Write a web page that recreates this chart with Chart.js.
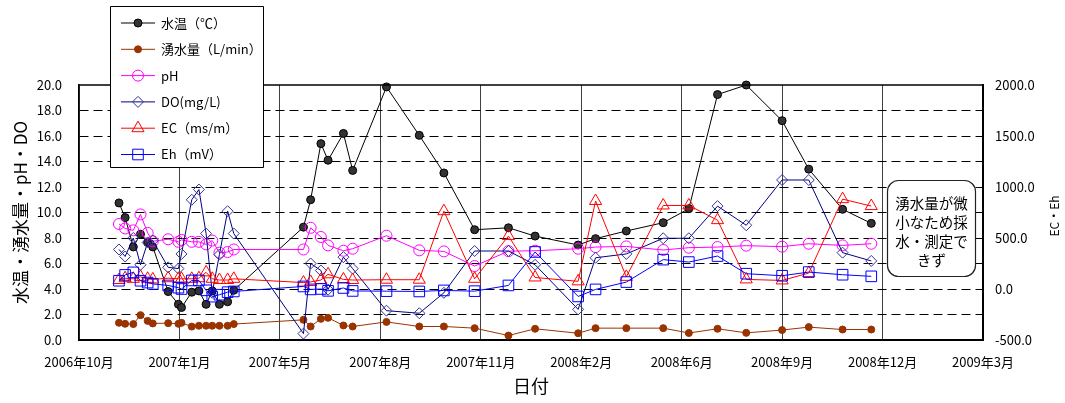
<!DOCTYPE html>
<html>
<head>
<meta charset="utf-8">
<script src="https://cdn.jsdelivr.net/npm/chart.js@4"></script>
<style>
  html, body { margin: 0; padding: 0; background: #fff; }
</style>
</head>
<body>
<canvas id="chart" width="1065" height="403"></canvas>
<script>
const FONT = '"Noto Sans CJK JP", "Noto Sans", sans-serif'

// 採水日
const sampleDates = [
  '2006-11-30', '2006-12-06', '2006-12-14', '2006-12-21', '2006-12-28', '2007-01-02',
  '2007-01-17', '2007-01-27', '2007-01-30', '2007-02-09', '2007-02-16', '2007-02-23',
  '2007-03-01', '2007-03-08', '2007-03-16', '2007-03-22',
  '2007-05-29', '2007-06-05', '2007-06-15', '2007-06-22', '2007-07-07', '2007-07-16',
  '2007-08-18', '2007-09-19', '2007-10-13', '2007-11-12', '2007-12-15', '2008-01-10',
  '2008-02-21', '2008-03-09', '2008-04-08', '2008-05-14', '2008-06-08', '2008-07-06',
  '2008-08-03', '2008-09-07', '2008-10-03', '2008-11-05', '2008-12-03'
]

// 左軸
const waterTemp = [
  10.75, 9.6, 7.3, 8.3, 7.65, 7.3, 3.8, 2.8, 2.55, 3.75, 3.85, 2.8, 3.85, 2.8, 3.0, 3.9,
  8.85, 11.0, 15.4, 14.1, 16.2, 13.3,
  19.85, 16.05, 13.1, 8.65, 8.8, 8.15, 7.45, 7.95, 8.55, 9.2, 10.3, 19.25, 20.0, 17.2, 13.4, 10.25, 9.15
]
const flowRate = [
  1.35, 1.27, 1.25, 1.95, 1.5, 1.3, 1.32, 1.27, 1.35, 1.05, 1.12, 1.12, 1.12, 1.12, 1.12, 1.25,
  1.58, 1.06, 1.66, 1.74, 1.14, 1.06,
  1.42, 1.06, 1.06, 0.93, 0.35, 0.88, 0.53, 0.93, 0.93, 0.93, 0.55, 0.88, 0.56, 0.78, 1.01, 0.82, 0.82
]
const phValues = [
  9.1, 8.75, 8.6, 9.85, 8.4, 7.75, 7.9, 7.7, 7.85, 7.7, 7.7, 7.5, 7.8, 6.85, 6.9, 7.1,
  7.1, 8.8, 8.08, 7.42, 7.0, 7.16,
  8.18, 7.03, 6.95, 5.8, 6.97, 7.0, 7.16, 7.29, 7.34, 7.06, 7.24, 7.29, 7.4, 7.32, 7.55, 7.42, 7.55
]
const doValues = [
  7.1, 6.55, 8.0, 5.9, 7.65, 7.8, 5.7, 5.6, 6.75, 11.0, 11.8, 8.35, 3.7, 6.7, 10.1, 8.35,
  0.5, 6.0, 5.45, 3.95, 6.5, 5.6,
  2.3, 2.1, 3.7, 6.98, 6.98, 5.9, 2.4, 6.45, 6.75, 7.98, 7.98, 10.5, 9.0, 12.55, 12.55, 6.85, 6.2
]

// 右軸
const ecValues = [
  88, 106, 100, 119, 100, 94, 106, 100, 100, 100, 106, 163, 100, 88, 88, 100,
  63, 69, 88, 144, 94, 88,
  91, 91, 763, 100, 519, 113, 75, 863, 119, 819, 819, 675, 94, 84, 156, 881, 813
]
const ehValues = [
  81, 138, 163, 81, 63, 50, 35, 13, 0, 84, 84, -13, -75, -56, -31, -24,
  25, -4, 0, -18, 10, -19,
  -21, -24, -14, -21, 35, 363, -73, -4, 68, 288, 264, 323, 150, 130, 166, 140, 124
]

const xTickLabels = [
  '2006年10月', '2007年1月', '2007年5月', '2007年8月', '2007年11月',
  '2008年2月', '2008年6月', '2008年9月', '2008年12月', '2009年3月'
]
const xTickStart = '2006-10-22'
const xTickStepDays = 98

const noteLines = ['湧水量が微', '小なため採', '水・測定で', 'きず']

function toDay(s) {
  const [y, m, d] = s.split('-').map(Number)
  const [y0, m0, d0] = xTickStart.split('-').map(Number)
  return (Date.UTC(y, m - 1, d) - Date.UTC(y0, m0 - 1, d0)) / 86400000
}

function points(values) {
  return sampleDates.map((d, i) => ({x: toDay(d), y: values[i]}))
}

const series = [
  {label: '水温（℃）', data: waterTemp, axis: 'y', color: '#000000', fill: '#333333', style: 'circle', r: 4, order: 5},
  {label: '湧水量（L/min）', data: flowRate, axis: 'y', color: '#993300', fill: '#993300', style: 'circle', r: 3.5, order: 4},
  {label: 'pH', data: phValues, axis: 'y', color: '#FF00FF', fill: 'rgba(0,0,0,0)', style: 'circle', r: 5.5, order: 3},
  {label: 'DO(mg/L)', data: doValues, axis: 'y', color: '#000080', point: '#333399', fill: 'rgba(0,0,0,0)', style: 'rectRot', r: 5.5, order: 2},
  {label: 'EC（ms/m）', data: ecValues, axis: 'y2', color: '#FF0000', fill: 'rgba(0,0,0,0)', style: 'triangle', r: 7, order: 1},
  {label: 'Eh（mV）', data: ehValues, axis: 'y2', color: '#0000FF', fill: 'rgba(0,0,0,0)', style: 'rect', r: 7.5, order: 0}
]

function drawMarker(ctx, s, x, y) {
  ctx.save()
  ctx.beginPath()
  const r = s.r
  if (s.style === 'circle') {
    ctx.arc(x, y, r, 0, Math.PI * 2)
  } else if (s.style === 'rectRot') {
    ctx.moveTo(x - r, y); ctx.lineTo(x, y - r); ctx.lineTo(x + r, y); ctx.lineTo(x, y + r); ctx.closePath()
  } else if (s.style === 'triangle') {
    const h = r * 1.5, w = r * Math.sqrt(3) / 2
    ctx.moveTo(x, y - r); ctx.lineTo(x + w, y - r + h); ctx.lineTo(x - w, y - r + h); ctx.closePath()
  } else {
    const h = r * Math.SQRT1_2
    ctx.rect(x - h, y - h, 2 * h, 2 * h)
  }
  ctx.fillStyle = s.fill
  ctx.fill()
  ctx.lineWidth = 1
  ctx.strokeStyle = s.point || s.color
  ctx.stroke()
  ctx.restore()
}

const extras = {
  id: 'extras',
  afterDraw(chart) {
    const {ctx, chartArea: a} = chart
    ctx.save()

    // 上枠
    ctx.strokeStyle = '#000'
    ctx.lineWidth = 1.5
    ctx.beginPath()
    ctx.moveTo(a.left, a.top)
    ctx.lineTo(a.right, a.top)
    ctx.stroke()

    // 軸タイトル
    ctx.fillStyle = '#000'
    ctx.textAlign = 'center'
    ctx.textBaseline = 'middle'
    ctx.font = `18px ${FONT}`
    ctx.fillText('日付', (a.left + a.right) / 2, 386)

    ctx.save()
    ctx.translate(21, (a.top + a.bottom) / 2)
    ctx.rotate(-Math.PI / 2)
    ctx.font = `17px ${FONT}`
    ctx.fillText('水温・湧水量・pH・DO', 0, 0)
    ctx.restore()

    ctx.save()
    ctx.translate(1054, 216)
    ctx.rotate(-Math.PI / 2)
    ctx.font = `12px ${FONT}`
    ctx.fillText('EC・Eh', 0, 0)
    ctx.restore()

    // 注記
    ctx.beginPath()
    ctx.roundRect(887.5, 180.5, 88, 96, 11)
    ctx.fillStyle = '#fff'
    ctx.fill()
    ctx.lineWidth = 1.2
    ctx.strokeStyle = '#222'
    ctx.stroke()
    ctx.fillStyle = '#000'
    ctx.font = `14.5px ${FONT}`
    noteLines.forEach((t, i) => ctx.fillText(t, 931.5, 203 + i * 19))

    // 凡例
    ctx.beginPath()
    ctx.rect(110.5, 6.5, 153, 161)
    ctx.fillStyle = '#fff'
    ctx.fill()
    ctx.lineWidth = 1
    ctx.strokeStyle = '#000'
    ctx.stroke()
    ctx.font = `13px ${FONT}`
    ctx.textAlign = 'left'
    series.forEach((s, i) => {
      const y = 23 + i * 26.3
      ctx.beginPath()
      ctx.moveTo(121, y)
      ctx.lineTo(155, y)
      ctx.lineWidth = 1
      ctx.strokeStyle = s.color
      ctx.stroke()
      drawMarker(ctx, s, 138, y)
      ctx.fillStyle = '#000'
      ctx.fillText(s.label, 161, y)
    })
    ctx.restore()
  }
}

const tickFont = {family: FONT, size: 13}

new Chart(document.getElementById('chart'), {
  type: 'line',
  data: {
    datasets: series.map(s => ({
      label: s.label,
      data: points(s.data),
      yAxisID: s.axis,
      order: s.order,
      borderColor: s.color,
      borderWidth: 1,
      backgroundColor: s.fill,
      pointStyle: s.style,
      pointRadius: s.r,
      pointBorderColor: s.point || s.color,
      pointBackgroundColor: s.fill,
      pointBorderWidth: 1,
      tension: 0,
      clip: false
    }))
  },
  options: {
    responsive: false,
    animation: false,
    devicePixelRatio: 1,
    layout: {padding: {top: 85, left: 0, right: 0, bottom: 0}},
    plugins: {legend: {display: false}, tooltip: {enabled: false}},
    scales: {
      x: {
        type: 'linear',
        min: 0,
        max: xTickStepDays * (xTickLabels.length - 1),
        afterBuildTicks: s => { s.ticks = xTickLabels.map((_, i) => ({value: i * xTickStepDays})) },
        afterFit: s => { s.height = 63 },
        ticks: {
          autoSkip: false, maxRotation: 0, padding: 14, color: '#000', font: tickFont,
          callback: (v, i) => xTickLabels[i]
        },
        grid: {color: '#404040', lineWidth: 1, drawTicks: false},
        border: {color: '#000', width: 2}
      },
      y: {
        position: 'left',
        min: 0,
        max: 20,
        afterFit: s => { s.width = 79 },
        ticks: {stepSize: 2, padding: 17, color: '#000', font: tickFont, callback: v => v.toFixed(1)},
        grid: {
          color: c => (c.tick && (c.tick.value === 0 || c.tick.value === 20)) ? 'rgba(0,0,0,0)' : '#000',
          lineWidth: 1,
          drawTicks: false
        },
        border: {color: '#000', width: 1.5, dash: [9, 5]}
      },
      y2: {
        position: 'right',
        min: -500,
        max: 2000,
        afterFit: s => { s.width = 82 },
        ticks: {stepSize: 500, padding: 12, color: '#000', font: tickFont, callback: v => v.toFixed(1)},
        grid: {drawOnChartArea: false, drawTicks: false},
        border: {color: '#000', width: 2}
      }
    }
  },
  plugins: [extras]
})
</script>
</body>
</html>
